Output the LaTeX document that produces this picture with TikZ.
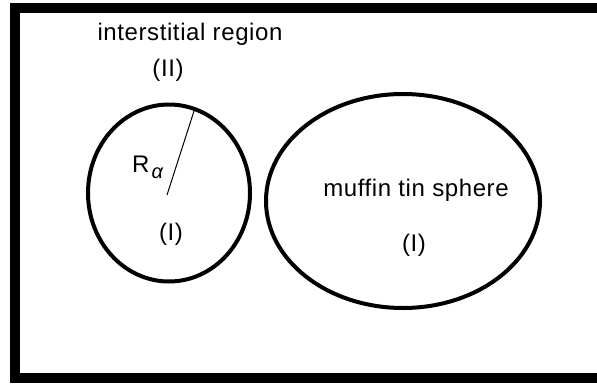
\documentclass[tikz,border=0pt]{standalone}
\usepackage{fontspec}
\setmainfont{Liberation Sans}
\usetikzlibrary{shapes.geometric}
\begin{document}
\begin{tikzpicture}[x=1pt,y=-1pt,
  region/.style={draw,ellipse,line width=4pt,inner sep=0pt},
  lbl/.style={inner sep=0pt,font=\fontsize{24}{28}\selectfont\addfontfeature{LetterSpace=2.5}}]
\useasboundingbox (0,0) rectangle (597,383);
\fill[white] (0,0) rectangle (597,383);
% frame (open on the right)
\draw[line width=10pt,miter limit=10] (597,8) -- (15,8) -- (15,378) -- (597,378);
% regions
\node[region,minimum width=162pt,minimum height=177pt] (lc) at (169,193) {};
\node[region,minimum width=274pt,minimum height=214pt] (rc) at (403,201) {};
% radius
\coordinate (c0) at (167,195);
\draw[line width=1pt] (c0) -- (lc.73.5);
% labels
\node[lbl] (ir) at (190,34) {interstitial region};
\node[lbl] (ii) at (168,70) {(II)};
\node[lbl,anchor=base west] (ra) at (132,172) {R\hspace{2pt}\raisebox{-6pt}{\fontsize{20}{22}\selectfont\itshape α}};
\node[lbl] (i1) at (171,234) {(I)};
\node[lbl] (mt) at (416,190) {muffin tin sphere};
\node[lbl] (i2) at (414,245) {(I)};
\end{tikzpicture}
\end{document}
